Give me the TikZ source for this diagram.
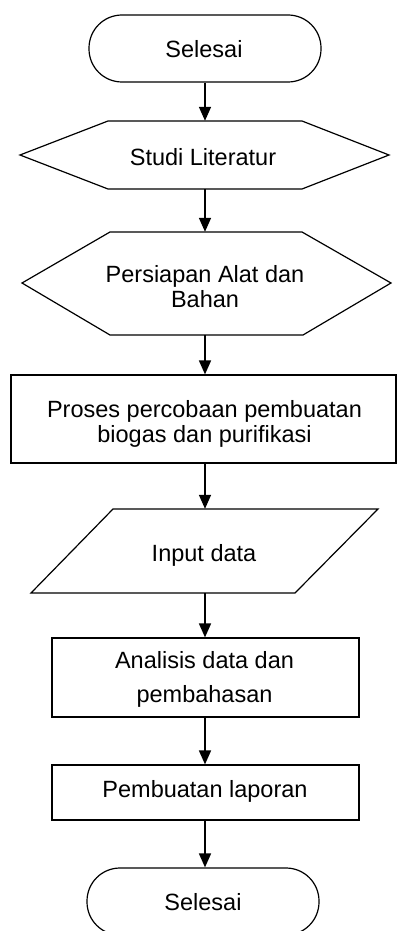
\documentclass[tikz,border=0pt]{standalone}
\usepackage{fontspec}
\setmainfont{Liberation Sans}
\usetikzlibrary{arrows.meta}
\begin{document}
\begin{tikzpicture}[x=1pt,y=-1pt,
  shapeline/.style={draw=black,line width=1.2pt},
  box/.style={shapeline,rectangle,inner sep=0pt},
  ghost/.style={draw=none,rectangle,inner sep=0pt},
  term/.style={shapeline,rectangle,rounded corners=33pt,inner sep=0pt},
  lbl/.style={anchor=base,align=center,inner sep=0pt,font=\fontsize{23.5}{25}\selectfont},
  flow/.style={line width=1.6pt,-{Triangle[length=14pt,width=12pt]}}]
\useasboundingbox (0,0) rectangle (397,931);
% shapes
\node[term,minimum width=232pt,minimum height=67pt] (s1) at (205,48.5) {};
\node[ghost,minimum width=194pt,minimum height=68pt] (h1) at (205,155) {};
\draw[shapeline] (20,155) -- (108,121) -- (302,121) -- (389,155) -- (302,189) -- (108,189) -- cycle;
\node[ghost,minimum width=192pt,minimum height=103pt] (h2) at (205,283.5) {};
\draw[shapeline] (22,283) -- (110,232) -- (302,232) -- (391,283) -- (303,335) -- (110,335) -- cycle;
\node[box,minimum width=385pt,minimum height=88pt] (r1) at (203.5,419) {};
\node[ghost,minimum width=200pt,minimum height=84pt] (p1) at (205,551) {};
\draw[shapeline] (113,509) -- (378,509) -- (295,593) -- (31,593) -- cycle;
\node[box,minimum width=307pt,minimum height=79pt] (r2) at (205.5,677.5) {};
\node[box,minimum width=307pt,minimum height=55pt] (r3) at (205.5,792.5) {};
\node[term,minimum width=232pt,minimum height=67pt] (s2) at (203,901.5) {};
% labels (base anchor = baseline of last line)
\node[lbl] (t1) at (204,58) {Selesai};
\node[lbl] (t2) at (203,165) {Studi Literatur};
\node[lbl] (t3) at (205,307) {Persiapan Alat dan\\Bahan};
\node[lbl] (t4) at (204.5,442) {Proses percobaan pembuatan\\biogas dan purifikasi};
\node[lbl] (t5) at (204,561) {Input data};
\node[lbl,font=\fontsize{23.5}{34}\selectfont] (t6) at (204.5,702) {Analisis data dan\\pembahasan};
\node[lbl] (t7) at (205,797) {Pembuatan laporan};
\node[lbl] (t8) at (203,910) {Selesai};
% connectors
\draw[flow] (s1.south -| h1.north) -- (h1.north);
\draw[flow] (h1.south) -- (h2.north);
\draw[flow] (h2.south) -- (h2.south |- r1.north);
\draw[flow] (r1.south -| p1.north) -- (p1.north);
\draw[flow] (p1.south) -- (p1.south |- r2.north);
\draw[flow] (r2.south -| p1.south) -- (p1.south |- r3.north);
\draw[flow] (r3.south -| p1.south) -- (p1.south |- s2.north);
\end{tikzpicture}
\end{document}
